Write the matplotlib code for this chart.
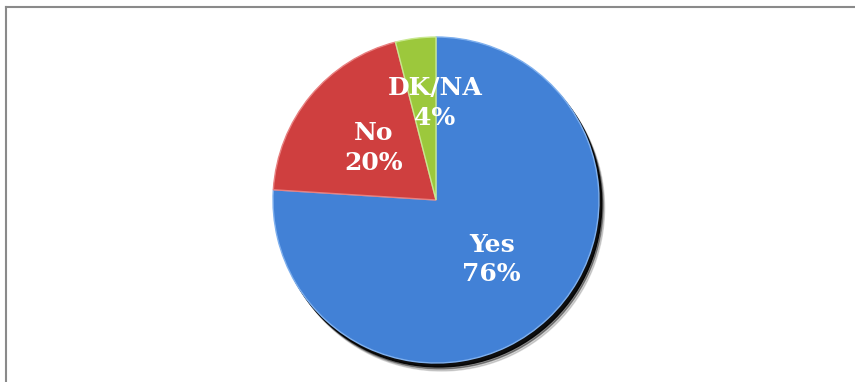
import matplotlib
matplotlib.use("Agg")
import matplotlib.pyplot as plt
from matplotlib.patches import Circle
from matplotlib.lines import Line2D

categories = ["Yes", "No", "DK/NA"]
shares = [76, 20, 4]
colors = ["#4281d6", "#cf3f3f", "#9cc83c"]
edges = ["#7fb0ee", "#e88080", "#c8e890"]

fig = plt.figure(figsize=(8.55, 3.82), dpi=100)
ax = fig.add_axes([0, 0, 1, 1])
ax.set_xlim(0, 855)
ax.set_ylim(0, 382)
ax.set_aspect("equal")
ax.axis("off")

cx, cy, r = 436, 182, 163

# soft dark shadow to the lower right
for off, a in [(8, 0.15), (6, 0.35), (4, 0.9)]:
    ax.add_patch(Circle((cx + off * 0.7, cy - off), r, color="black", alpha=a, zorder=0))

labels = [f"{c}\n{v}%" for c, v in zip(categories, shares)]
wedges, texts = ax.pie(shares, labels=labels, colors=colors, startangle=90,
                       counterclock=False, center=(cx, cy), radius=r,
                       labeldistance=0.5, frame=True,
                       wedgeprops=dict(linewidth=1.0),
                       textprops=dict(color="white", fontsize=18,
                                      fontweight="bold", family="DejaVu Serif"))
for w, ec in zip(wedges, edges):
    w.set_edgecolor(ec)
    w.set_zorder(1)
for t in texts:
    t.set_ha("center")
    t.set_va("center")
    t.set_linespacing(1.3)
    t.set_zorder(3)
# nudge the small slice label upward, as in the original
x, y = texts[2].get_position()
texts[2].set_position((x + 9, y + 16))

ax.set_xlim(0, 855)
ax.set_ylim(0, 382)
ax.axis("off")

# frame lines (left and top only visible)
fig.add_artist(Line2D([5.5 / 855, 5.5 / 855], [0, 1 - 7 / 382], color="#8a8a8a", lw=1.5))
fig.add_artist(Line2D([5.5 / 855, 1], [1 - 7 / 382, 1 - 7 / 382], color="#8a8a8a", lw=1.5))

plt.savefig("out.png", dpi=100)
